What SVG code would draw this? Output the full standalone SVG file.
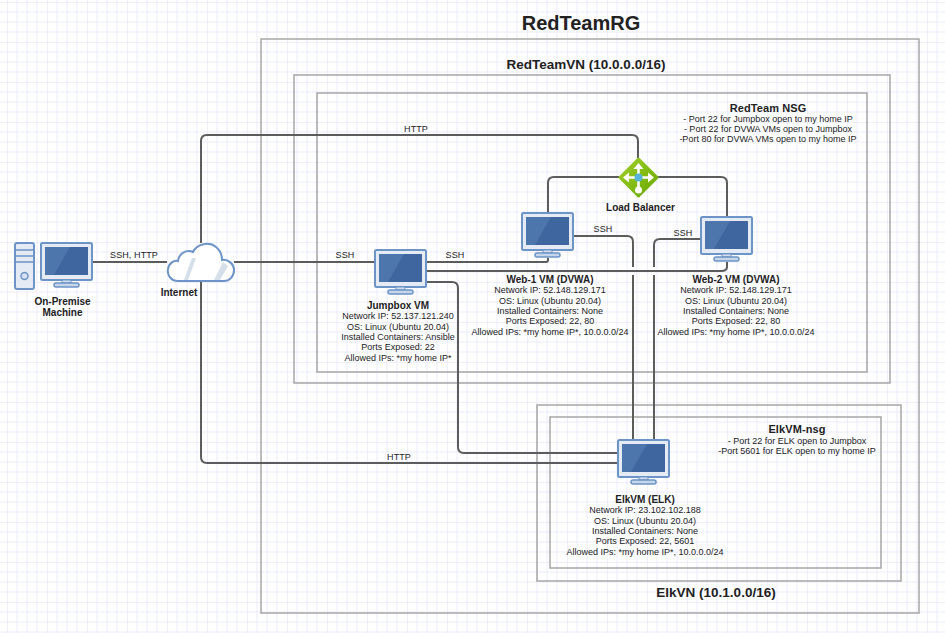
<svg xmlns="http://www.w3.org/2000/svg" xmlns:xlink="http://www.w3.org/1999/xlink" width="945" height="633" viewBox="0 0 945 633">
<style>
text{font-family:"Liberation Sans",Arial,sans-serif;fill:#222;text-anchor:middle}
.s{font-size:9px}
.l{font-size:9px;letter-spacing:.1px}
.b{font-size:10px;font-weight:bold}
.h{font-size:11px;font-weight:bold;letter-spacing:.1px}
.t{font-size:13.5px;font-weight:bold}
.box{fill:none;stroke:#a6a6a6;stroke-width:1.5}
.c{fill:none;stroke:#5c5c5c;stroke-width:2}
</style>
<defs>
<pattern id="grid" width="40" height="40" patternUnits="userSpaceOnUse" x="7" y="2">
<path d="M0 10H40M0 20H40M0 30H40M10 0V40M20 0V40M30 0V40" stroke="#ebebfa" stroke-width="1" fill="none"/>
<path d="M0 0H40M0 0V40" stroke="#dfdff5" stroke-width="1" fill="none"/>
</pattern>
<linearGradient id="lb" x1="0" y1="0" x2="1" y2="1"><stop offset="0" stop-color="#a0cf2a"/><stop offset="1" stop-color="#68a800"/></linearGradient>
<g id="mon">
<rect x="1" y="1" width="51" height="37" rx="1.5" fill="#e4ebf5" stroke="#6c94c6" stroke-width="2"/>
<rect x="5" y="5" width="43" height="28" fill="#3f669e"/>
<path d="M5 33V5H30L14 33Z" fill="#4d76ac"/>
<path d="M22 38h9v3h-9z" fill="#d5e1ef" stroke="#6c94c6"/>
<rect x="14" y="41" width="25" height="4" rx="2" fill="#c5d6ea" stroke="#6c94c6" stroke-width="1.5"/>
</g>
</defs>
<rect width="945" height="633" fill="#fff"/>
<rect width="945" height="633" fill="url(#grid)"/>

<g id="containers">
<rect class="box" x="261" y="39" width="658" height="574"/>
<rect class="box" x="294" y="75" width="596" height="308"/>
<rect class="box" x="317" y="93" width="550" height="279"/>
<rect class="box" x="537" y="405" width="364" height="176"/>
<rect class="box" x="550" y="417" width="331" height="151"/>
</g>

<g id="connectors">
<path class="c" d="M92 262H167"/>
<path class="c" d="M234 262H374"/>
<path class="c" d="M201 243V141Q201 135 207 135H632Q638 135 638 141V158"/>
<path class="c" d="M201 281V457Q201 463 207 463H617"/>
<path class="c" d="M619 177H554Q548 177 548 183V212"/>
<path class="c" d="M658 177H721Q727 177 727 183V216"/>
<path class="c" d="M427 262H546Q548 262 548 260V258"/>
<path class="c" d="M427 271H721Q727 271 727 267V262"/>
<path class="c" d="M427 282H452Q458 282 458 288V447Q458 453 464 453H617"/>
<path class="c" d="M574 236H627Q633 236 633 242V267M633 275V439"/>
<path class="c" d="M700 239H660Q654 239 654 245V267M654 275V439"/>
</g>

<g id="on-premise">
<rect x="15" y="243" width="19" height="46" rx="2" fill="#e4ebf5" stroke="#6c94c6" stroke-width="2"/>
<path d="M15 250H34M15 256H34M15 262H34" stroke="#6c94c6" stroke-width="1.5"/>
<circle cx="24.500" cy="276" r="3.500" fill="#d5e1ef" stroke="#6c94c6" stroke-width="1.500"/>
<use xlink:href="#mon" x="40" y="242"/>
<text class="b" x="62.500" y="305">On-Premise</text>
<text class="b" x="62.500" y="316">Machine</text>
</g>

<g id="internet">
<path d="M178 281C170 281 167 274 168 269C169 263 174 260 178 261C179 253 187 249 193 252C197 244 209 241 216 247C221 251 222 256 222 260C228 259 234 264 234 270C234 277 229 281 224 281Z" fill="#fff" stroke="#6c94c6" stroke-width="2"/>
<path d="M184 280L192 258H196L188 280ZM214 280L223 262L228 266L220 280Z" fill="#d5dfea"/>
<text class="b" x="179" y="296">Internet</text>
</g>

<g id="jumpbox">
<use xlink:href="#mon" x="374" y="249"/>
<text class="b" x="398" y="309">Jumpbox VM</text>
<text class="s" x="398" y="319">Network IP: 52.137.121.240</text>
<text class="s" x="398" y="330">OS: Linux (Ubuntu 20.04)</text>
<text class="s" x="398" y="340">Installed Containers: Ansible</text>
<text class="s" x="398" y="350">Ports Exposed: 22</text>
<text class="s" x="398" y="361">Allowed IPs: *my home IP*</text>
</g>

<g id="web-1">
<use xlink:href="#mon" x="521" y="212"/>
<text class="b" x="550" y="283">Web-1 VM (DVWA)</text>
<text class="s" x="550" y="293">Network IP: 52.148.129.171</text>
<text class="s" x="550" y="304">OS: Linux (Ubuntu 20.04)</text>
<text class="s" x="550" y="314">Installed Containers: None</text>
<text class="s" x="550" y="324">Ports Exposed: 22, 80</text>
<text class="s" x="550" y="335">Allowed IPs: *my home IP*, 10.0.0.0/24</text>
</g>

<g id="web-2">
<use xlink:href="#mon" x="700" y="216"/>
<text class="b" x="736" y="283">Web-2 VM (DVWA)</text>
<text class="s" x="736" y="293">Network IP: 52.148.129.171</text>
<text class="s" x="736" y="304">OS: Linux (Ubuntu 20.04)</text>
<text class="s" x="736" y="314">Installed Containers: None</text>
<text class="s" x="736" y="324">Ports Exposed: 22, 80</text>
<text class="s" x="736" y="335">Allowed IPs: *my home IP*, 10.0.0.0/24</text>
</g>

<g id="elk">
<use xlink:href="#mon" x="617" y="439"/>
<text class="b" x="645" y="503">ElkVM (ELK)</text>
<text class="s" x="645" y="513">Network IP: 23.102.102.188</text>
<text class="s" x="645" y="524">OS: Linux (Ubuntu 20.04)</text>
<text class="s" x="645" y="534">Installed Containers: None</text>
<text class="s" x="645" y="544">Ports Exposed: 22, 5601</text>
<text class="s" x="645" y="555">Allowed IPs: *my home IP*, 10.0.0.0/24</text>
</g>

<g id="load-balancer">
<path d="M638.500 159L657 177.500L638.500 196L620 177.500Z" fill="url(#lb)" stroke="url(#lb)" stroke-linejoin="round" stroke-width="3"/>
<path d="M626 177.500H651M638.500 166V192" stroke="#fff" stroke-width="2.500" fill="none"/>
<path d="M623 177.500l6-5v10ZM654 177.500l-6-5v10ZM638.500 163l-5 6h10Z" fill="#fff"/>
<circle cx="638.500" cy="190" r="3.500" fill="#fff"/>
<circle cx="638.500" cy="177.500" r="4" fill="#59b4d9"/>
<text class="b" x="640.500" y="211">Load Balancer</text>
</g>

<g id="labels">
<text x="581" y="30" style="font-size:20px;font-weight:bold">RedTeamRG</text>
<text class="t" x="586" y="69">RedTeamVN (10.0.0.0/16)</text>
<text class="t" x="716" y="597">ElkVN (10.1.0.0/16)</text>
<text class="h" x="768" y="111.500">RedTeam NSG</text>
<text class="s" x="768" y="122">- Port 22 for Jumpbox open to my home IP</text>
<text class="s" x="768" y="132">- Port 22 for DVWA VMs open to Jumpbox</text>
<text class="s" x="768" y="142">-Port 80 for DVWA VMs open to my home IP</text>
<text class="h" x="797" y="433">ElkVM-nsg</text>
<text class="s" x="797" y="444">- Port 22 for ELK open to Jumpbox</text>
<text class="s" x="797" y="454">-Port 5601 for ELK open to my home IP</text>
<text class="l" x="134" y="258">SSH, HTTP</text>
<text class="l" x="345" y="258">SSH</text>
<text class="l" x="455" y="258">SSH</text>
<text class="l" x="603" y="232">SSH</text>
<text class="l" x="683" y="236">SSH</text>
<text class="l" x="416" y="132">HTTP</text>
<text class="l" x="399" y="460">HTTP</text>
</g>
</svg>
